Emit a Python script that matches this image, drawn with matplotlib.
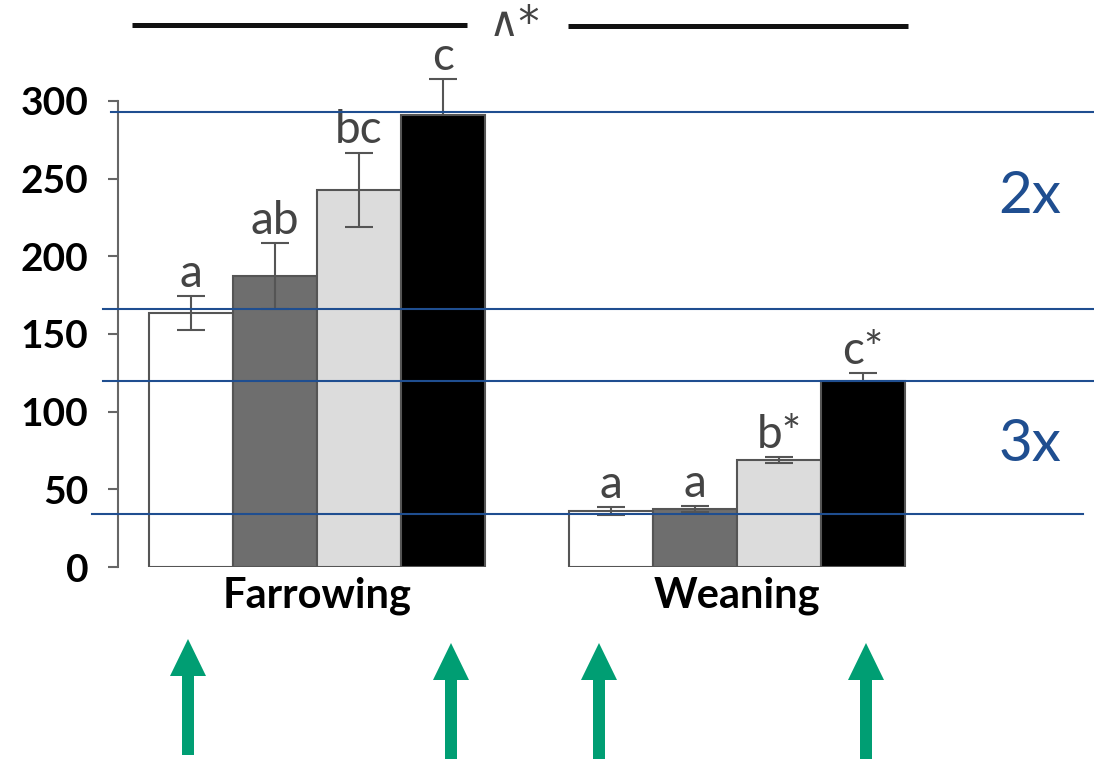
import matplotlib
matplotlib.use("Agg")
import matplotlib.pyplot as plt
import matplotlib.transforms as mtransforms
from matplotlib.patches import FancyArrow
import numpy as np

plt.rcParams['font.family'] = ['Lato', 'DejaVu Sans']

# ---- data ----
groups = ["Farrowing", "Weaning"]
bar_colors = ["#ffffff", "#6e6e6e", "#dcdcdc", "#000000"]
farrowing_means = [163.5, 187.3, 242.7, 291.0]
farrowing_err = [11, 21, 24, 23]
weaning_means = [36.0, 37.3, 68.9, 119.8]
weaning_err = [2.5, 2.0, 2.0, 5.0]
farrowing_letters = ["a", "ab", "bc", "c"]
weaning_letters = ["a", "a", "b*", "c*"]
ref_levels = [293, 166, 120, 34]
yticks = [0, 50, 100, 150, 200, 250, 300]
fold_labels = ["2x", "3x"]

W, H = 1094, 765
fig = plt.figure(figsize=(W / 100, H / 100), dpi=100)
ax = fig.add_axes([118 / W, (H - 567) / H, (W - 118) / W, 466 / H])

grey = "#555555"
x_f = np.arange(4)
x_w = np.arange(4) + 5

for xs, means, errs, letters in [(x_f, farrowing_means, farrowing_err, farrowing_letters),
                                 (x_w, weaning_means, weaning_err, weaning_letters)]:
    ax.bar(xs, means, width=1.0, color=bar_colors, edgecolor=grey, linewidth=1.5, zorder=2)
    for x, m, e, c, t in zip(xs, means, errs, bar_colors, letters):
        # whiskers on the black bars sit behind the bar, so only the upper half shows
        z = 1 if c == "#000000" else 3
        eb = ax.errorbar([x], [m], yerr=[e], fmt='none', ecolor=grey, elinewidth=1.5,
                         capsize=10.4, capthick=1.5, zorder=z)
        for art in eb.lines[1] + eb.lines[2]:
            art.set_clip_on(False)
        ax.text(x, m + e + 6, t, ha='center', va='baseline', fontsize=33,
                color="#444444", zorder=4)

# reference lines for fold changes
blue = "#1f4e90"
line_starts = [-0.952, -1.048, -1.048, -1.179]
line_ends = [10.75, 10.75, 10.75, 10.62]
for lvl, x0, x1 in zip(ref_levels, line_starts, line_ends):
    ax.plot([x0, x1], [lvl, lvl], color=blue, lw=1.5, clip_on=False, zorder=5)

ax.text(9.99, (ref_levels[0] + ref_levels[1]) / 2 + 9, fold_labels[0], ha='center', va='center',
        fontsize=42, color=blue)
ax.text(9.99, (ref_levels[2] + ref_levels[3]) / 2 + 2, fold_labels[1], ha='center', va='center',
        fontsize=42, color=blue)

ax.set_xlim(-0.869, 10.75)
ax.set_ylim(0, 300)
ax.set_yticks(yticks)
ax.set_yticklabels([str(v) for v in yticks], fontsize=28, fontweight='bold')
ax.tick_params(axis='y', length=7.2, width=1.5, color="#666666", pad=14)
ax.set_xticks([1.5, 6.5])
ax.set_xticklabels(groups, fontsize=30, fontweight='bold')
ax.tick_params(axis='x', length=0, pad=7)
for s in ['top', 'right', 'bottom']:
    ax.spines[s].set_visible(False)
ax.spines['left'].set_color("#666666")
ax.spines['left'].set_linewidth(1.5)
ax.patch.set_visible(False)

# significance bracket across the groups
ax.plot([-0.702, 3.286], [349, 349], color="#111111", lw=3.6, clip_on=False,
        solid_capstyle='butt')
ax.plot([4.488, 8.536], [348.3, 348.3], color="#111111", lw=3.6, clip_on=False,
        solid_capstyle='butt')
ax.text(3.85, 349.5, "\u2227*", ha='center', va='center', fontsize=30, color="#444444",
        family=['DejaVu Sans'])

# arrows in pixel coordinates (origin at top-left)
px = mtransforms.Affine2D().scale(1 / W, -1 / H).translate(0, 1) + fig.transFigure
green = "#009e73"
arrows_x = [188, 451, 599, 866]
arrows_bottom = [755, 759, 759, 759]
arrows_tip = [639, 643, 643, 643]
for x, yb, yt in zip(arrows_x, arrows_bottom, arrows_tip):
    fig.add_artist(FancyArrow(x, yb, 0, yt - yb, width=12, head_width=36, head_length=37,
                              length_includes_head=True, color=green, lw=0,
                              transform=px))

fig.savefig("out.png", dpi=100, facecolor="white")
